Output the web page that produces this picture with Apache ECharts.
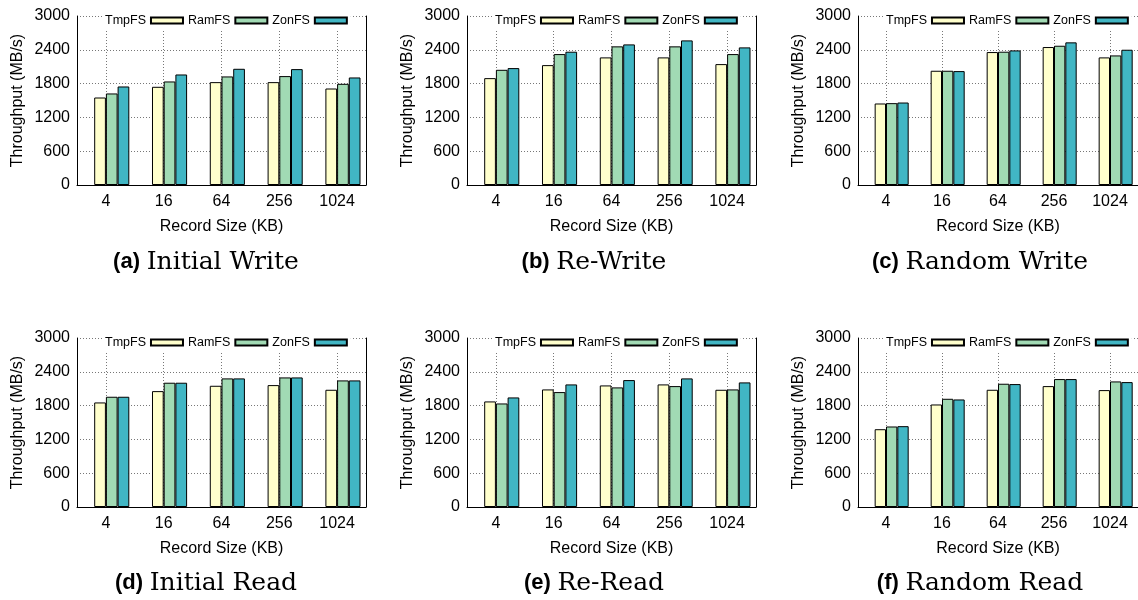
<!DOCTYPE html>
<html>
<head>
<meta charset="utf-8">
<script src="https://cdn.jsdelivr.net/npm/echarts@6/dist/echarts.min.js"></script>
<style>
  html, body { margin: 0; background: #fff; }
  #chart { width: 1138px; height: 600px; }
</style>
</head>
<body>
<div id="chart"></div>
<script>
// record sizes on the x axis
const categories = ['4', '16', '64', '256', '1024'];
const fsNames = ['TmpFS', 'RamFS', 'ZonFS'];
const fsColors = ['#ffffcc', '#a1dab4', '#41b6c4'];
const yMin = 0;
const yMax = 3000;
const yStep = 600;

// throughput in MB/s, one row per file system (TmpFS, RamFS, ZonFS)
const initialWrite = [
  [1553, 1743, 1826, 1826, 1713],
  [1625, 1838, 1927, 1933, 1796],
  [1749, 1962, 2063, 2057, 1909]
];
const reWrite = [
  [1897, 2128, 2265, 2265, 2146],
  [2045, 2324, 2461, 2461, 2324],
  [2075, 2366, 2496, 2567, 2443]
];
const randomWrite = [
  [1447, 2028, 2360, 2449, 2265],
  [1453, 2028, 2366, 2472, 2300],
  [1464, 2022, 2389, 2532, 2401]
];
const initialRead = [
  [1856, 2057, 2152, 2164, 2081],
  [1957, 2206, 2283, 2300, 2247],
  [1957, 2206, 2283, 2300, 2247]
];
const reRead = [
  [1874, 2087, 2158, 2176, 2081],
  [1838, 2040, 2123, 2146, 2087],
  [1945, 2176, 2253, 2283, 2212]
];
const randomRead = [
  [1381, 1820, 2081, 2146, 2075],
  [1429, 1921, 2188, 2271, 2229],
  [1435, 1909, 2182, 2271, 2217]
];

const panelTags = ['(a)', '(b)', '(c)', '(d)', '(e)', '(f)'];
const panelNames = ['Initial Write', 'Re-Write', 'Random Write', 'Initial Read', 'Re-Read', 'Random Read'];
const panelData = [initialWrite, reWrite, randomWrite, initialRead, reRead, randomRead];

const sans = 'Liberation Sans, Arial, sans-serif';
const colLeft = [77, 467, 858];
const rowTop = [16, 338];
const gridW = 289;
const gridH = 169;
const captionX = [206, 594, 980];
const captionY = [262, 583];

const dotted = { color: '#777', width: 1, type: [1, 2] };

const grids = [];
const xAxes = [];
const yAxes = [];
const legends = [];
const series = [];
const captions = [];

panelData.forEach((rows, i) => {
  const col = i % 3;
  const row = Math.floor(i / 3);

  grids.push({ left: colLeft[col], top: rowTop[row], width: gridW, height: gridH });

  xAxes.push({
    gridIndex: i,
    type: 'category',
    data: categories,
    axisLine: { lineStyle: { color: '#000', width: 1 } },
    axisTick: { show: false },
    axisLabel: { color: '#000', fontSize: 16, fontFamily: sans, margin: 9 },
    splitLine: { show: true, alignWithLabel: true, lineStyle: dotted },
    name: 'Record Size (KB)',
    nameLocation: 'middle',
    nameGap: 34,
    nameTextStyle: { color: '#000', fontSize: 16, fontFamily: sans }
  });

  yAxes.push({
    gridIndex: i,
    type: 'value',
    min: yMin,
    max: yMax,
    interval: yStep,
    axisLine: { show: true, lineStyle: { color: '#000', width: 1 } },
    axisTick: { show: false },
    axisLabel: {
      color: '#000', fontSize: 16, fontFamily: sans, margin: 7,
      formatter: v => String(v)
    },
    splitLine: { show: true, lineStyle: dotted },
    name: 'Throughput (MB/s)',
    nameLocation: 'middle',
    nameGap: 51,
    nameTextStyle: { color: '#000', fontSize: 16, fontFamily: sans }
  });
  // right border of the frame
  yAxes.push({
    gridIndex: i,
    type: 'value',
    position: 'right',
    min: yMin,
    max: yMax,
    interval: yStep,
    axisLine: { show: true, lineStyle: { color: '#000', width: 1 } },
    axisTick: { show: false },
    axisLabel: { show: false },
    splitLine: { show: false }
  });

  legends.push({
    data: fsNames,
    left: colLeft[col] + 25,
    top: rowTop[row] - 4,
    align: 'right',
    icon: 'rect',
    itemWidth: 32,
    itemHeight: 6,
    itemGap: 4,
    padding: [2, 3],
    backgroundColor: '#fff',
    selectedMode: false,
    textStyle: { color: '#000', fontSize: 12.5, fontFamily: sans }
  });

  // empty leading slot so the label sits between the 1st and 2nd bar
  series.push({
    type: 'bar',
    xAxisIndex: i,
    yAxisIndex: 2 * i,
    data: [],
    barGap: '0%',
    barCategoryGap: '19%',
    silent: true
  });
  rows.forEach((vals, k) => {
    series.push({
      name: fsNames[k],
      type: 'bar',
      xAxisIndex: i,
      yAxisIndex: 2 * i,
      data: vals,
      barGap: '0%',
      barCategoryGap: '19%',
      itemStyle: { color: fsColors[k], borderColor: '#000', borderWidth: 1 },
      emphasis: { disabled: true }
    });
  });

  captions.push({
    type: 'text',
    x: captionX[col],
    y: captionY[row],
    style: {
      text: '{b|' + panelTags[i] + '}  {s|' + panelNames[i] + '}',
      align: 'center',
      verticalAlign: 'middle',
      rich: {
        b: { fontFamily: sans, fontWeight: 'bold', fontSize: 22, fill: '#000' },
        s: { fontFamily: 'DejaVu Serif, serif', fontSize: 25, fill: '#000' }
      }
    }
  });
});

const chart = echarts.init(document.getElementById('chart'));
chart.setOption({
  animation: false,
  grid: grids,
  xAxis: xAxes,
  yAxis: yAxes,
  legend: legends,
  series: series,
  graphic: captions
});
</script>
</body>
</html>
